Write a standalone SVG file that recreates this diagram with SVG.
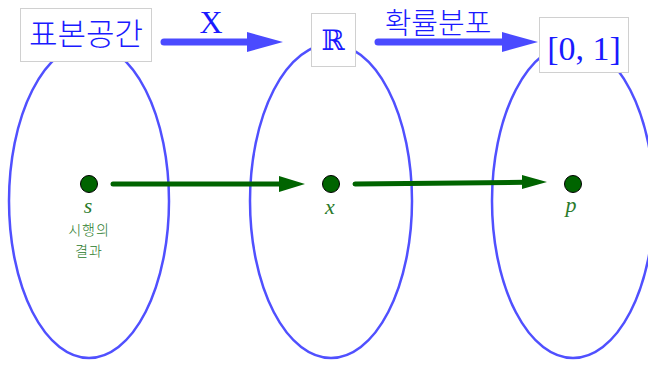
<svg xmlns="http://www.w3.org/2000/svg" width="648" height="365" viewBox="0 0 648 365">
<defs>
<style>
.ell{fill:none;stroke:#5050ff;stroke-width:2.5}
.box{fill:#fff;stroke:#d0d0d0;stroke-width:1}
.kor{font-family:"Noto Sans CJK KR","Noto Sans",sans-serif;font-weight:300;fill:#1a1aff}
.math{font-family:"DejaVu Serif","Liberation Serif",serif;fill:#1a1aff}
.serif{font-family:"Liberation Serif","DejaVu Serif",serif;fill:#1a1aff}
.dot{fill:#006400;stroke:#000;stroke-width:1}
.var{font-family:"Liberation Serif","DejaVu Serif",serif;font-style:italic;fill:#2a7a2a;font-size:22px;text-anchor:middle}
.small{font-family:"Noto Sans CJK KR",sans-serif;font-weight:300;fill:#2a7a2a;font-size:14px;letter-spacing:1px;text-anchor:middle}
.barr{stroke:#4a4aff;stroke-width:7;stroke-linecap:round;fill:none}
.garr{stroke:#006400;stroke-width:5;stroke-linecap:round;fill:none}
</style>
</defs>
<g id="sets">
<ellipse class="ell" cx="89" cy="201" rx="80" ry="157"/>
<ellipse class="ell" cx="331" cy="201" rx="81" ry="157"/>
<ellipse class="ell" cx="573" cy="201" rx="81" ry="157"/>
</g>
<g id="connectors">
<line class="barr" x1="164" y1="42" x2="250" y2="42"/>
<polygon points="247,32 283,42 247,52" fill="#4a4aff"/>
<line class="barr" x1="378" y1="42" x2="505" y2="42"/>
<polygon points="502,32 538,42 502,52" fill="#4a4aff"/>
<line class="garr" x1="113" y1="184" x2="282" y2="184"/>
<polygon points="279,176 305,184 279,192" fill="#006400"/>
<line class="garr" x1="355" y1="184" x2="524" y2="182.3"/>
<polygon points="522,175 547,182 522,189" fill="#006400"/>
</g>
<g id="label-X"><text class="serif" x="211" y="33" font-size="32" text-anchor="middle">X</text></g>
<g id="label-dist"><text class="kor" x="438" y="34" font-size="29" text-anchor="middle">확률분포</text></g>
<g id="node-sample-space">
<rect class="box" x="20.5" y="8.5" width="131" height="53"/>
<text class="kor" x="86" y="45" font-size="31" text-anchor="middle">표본공간</text>
</g>
<g id="node-R">
<rect class="box" x="311.5" y="13.5" width="44" height="53"/>
<text class="math" x="333" y="50" font-size="28" text-anchor="middle">ℝ</text>
</g>
<g id="node-interval">
<rect class="box" x="539.5" y="17.5" width="89" height="55"/>
<text class="serif" x="584" y="60" font-size="34" text-anchor="middle">[0, 1]</text>
</g>
<g id="node-s">
<circle class="dot" cx="89" cy="184" r="8.5"/>
<text class="var" x="88" y="213">s</text>
<text class="small" x="89" y="235">시행의</text>
<text class="small" x="89" y="256">결과</text>
</g>
<g id="node-x">
<circle class="dot" cx="331" cy="184" r="8.5"/>
<text class="var" x="330" y="214">x</text>
</g>
<g id="node-p">
<circle class="dot" cx="573" cy="184" r="8.5"/>
<text class="var" x="571" y="212">p</text>
</g>
</svg>
